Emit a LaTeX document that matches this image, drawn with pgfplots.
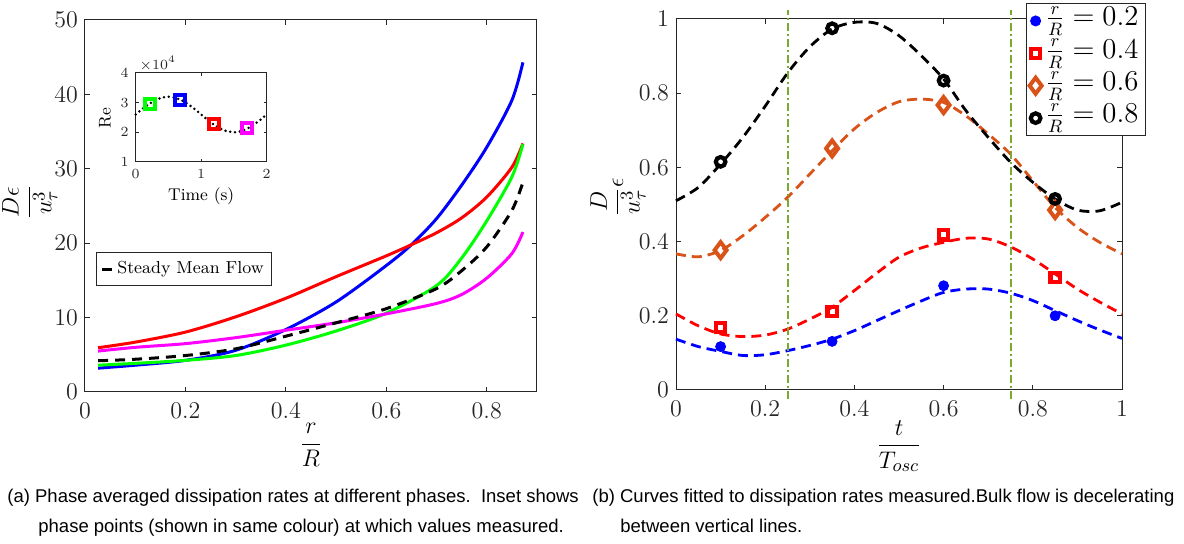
\documentclass[border=0pt]{standalone}
\usepackage{fontspec}
\usepackage{pgfplots}
\pgfplotsset{compat=1.18}
\newfontfamily\capfont{Liberation Sans}
\definecolor{mgray}{rgb}{0.15,0.15,0.15}
\definecolor{morange}{rgb}{0.85,0.325,0.098}
\definecolor{mgreen}{rgb}{0.466,0.674,0.188}
\definecolor{mmag}{rgb}{1,0,1}
\definecolor{mblue}{rgb}{0,0,1}
\definecolor{mred}{rgb}{1,0,0}
\definecolor{mgrn}{rgb}{0,1,0}
\pgfplotsset{
  mstyle/.style={
    scale only axis, anchor=south west,
    axis line style={mgray, line width=0.5pt},
    tick style={mgray, line width=0.5pt},
    tick align=inside,
    tick label style={text=mgray},
  }
}
\begin{document}
\begin{tikzpicture}
\path[use as bounding box] (0,0) rectangle (592pt,272pt);

% ---------------- left main panel ----------------
\begin{axis}[mstyle,
  at={(42.5pt,76pt)}, width=226pt, height=186pt,
  xmin=0, xmax=0.9, ymin=0, ymax=50,
  xtick={0,0.2,0.4,0.6,0.8}, ytick={0,10,20,30,40,50},
  major tick length=2.5pt,
  tick label style={font=\fontsize{13}{15}\selectfont},
  xticklabel style={yshift=-2pt},
  xlabel={$\displaystyle\frac{r}{R}$},
  ylabel={$\displaystyle\frac{D\epsilon}{u_\tau^3}$},
  label style={font=\fontsize{13}{15}\selectfont},
  xlabel style={at={(axis description cs:0.5,-0.1425)}, anchor=center},
  ylabel style={at={(axis description cs:-0.122,0.51)}, anchor=center},
  legend style={at={(0.024,0.376)}, anchor=north west, draw=mgray, line width=0.5pt,
    font=\fontsize{8.7}{10}\selectfont, inner xsep=2pt, inner ysep=2.5pt},
  legend cell align=left,
  legend image code/.code={\draw[#1, solid] (1pt,0pt) -- (6pt,0pt);},
]
\addplot[mblue, line width=1.5pt, smooth, forget plot] coordinates {
 (0.026,3.2) (0.1,3.6) (0.2,4.25) (0.3,5.6) (0.4,8.4) (0.5,12.1) (0.6,17.0) (0.65,19.8)
 (0.7,23.3) (0.75,27.8) (0.8,32.9) (0.85,39.2) (0.872,44.3)};
\addplot[mred, line width=1.5pt, smooth, forget plot] coordinates {
 (0.026,5.95) (0.1,6.7) (0.2,8.05) (0.3,10.1) (0.4,12.6) (0.5,15.5) (0.6,18.3) (0.65,19.8)
 (0.7,21.4) (0.75,23.4) (0.8,26.2) (0.85,30.2) (0.872,33.4)};
\addplot[mgrn, line width=1.5pt, smooth, forget plot] coordinates {
 (0.026,3.6) (0.1,3.85) (0.2,4.25) (0.3,4.9) (0.4,6.3) (0.5,8.2) (0.6,10.6)
 (0.7,14.3) (0.75,18.0) (0.8,23.0) (0.85,28.9) (0.872,33.3)};
\addplot[mmag, line width=1.5pt, smooth, forget plot] coordinates {
 (0.026,5.5) (0.1,6.0) (0.2,6.5) (0.3,7.3) (0.4,8.3) (0.5,9.3) (0.6,10.5)
 (0.7,11.9) (0.75,13.1) (0.8,15.3) (0.85,18.6) (0.872,21.5)};
\addplot[black, line width=1.5pt, smooth, dash pattern=on 5pt off 3.5pt] coordinates {
 (0.026,4.2) (0.1,4.4) (0.2,4.9) (0.3,5.8) (0.4,7.5) (0.5,9.3) (0.6,11.2)
 (0.7,13.9) (0.75,16.3) (0.8,19.5) (0.85,24.4) (0.872,28.2)};
\addlegendentry{Steady Mean Flow}
\end{axis}

% ---------------- inset ----------------
\begin{axis}[mstyle,
  at={(67.85pt,191pt)}, width=65.5pt, height=44.5pt,
  axis background/.style={fill=white},
  xmin=0, xmax=2, ymin=1, ymax=4,
  xtick={0,1,2}, ytick={1,2,3,4},
  major tick length=1.5pt,
  tick label style={font=\fontsize{7.5}{9}\selectfont},
  xlabel={Time (s)}, ylabel={Re},
  label style={font=\fontsize{8.5}{10}\selectfont},
  xlabel style={at={(axis description cs:0.5,-0.38)}, anchor=center},
  ylabel style={at={(axis description cs:-0.234,0.49)}, anchor=center},
  clip=false,
]
\addplot[black, line width=1.4pt, line cap=round, dash pattern=on 0pt off 2.4pt] coordinates {
 (0,2.6) (0.1,2.785) (0.2,2.953) (0.3,3.085) (0.4,3.171) (0.5,3.2) (0.6,3.171)
 (0.7,3.085) (0.8,2.953) (0.9,2.785) (1.0,2.6) (1.1,2.415) (1.2,2.247) (1.3,2.115)
 (1.4,2.029) (1.5,2.0) (1.6,2.029) (1.7,2.115) (1.8,2.247) (1.9,2.415) (2.0,2.6)};
\addplot[mgrn, only marks, mark=square, mark size=2.5pt, mark options={line width=2pt, fill=white}] coordinates {(0.22,2.97)};
\addplot[mblue, only marks, mark=square, mark size=2.5pt, mark options={line width=2pt, fill=white}] coordinates {(0.68,3.1)};
\addplot[mred, only marks, mark=square, mark size=2.5pt, mark options={line width=2pt, fill=white}] coordinates {(1.2,2.27)};
\addplot[mmag, only marks, mark=square, mark size=2.5pt, mark options={line width=2pt, fill=white}] coordinates {(1.7,2.15)};
\node[anchor=south west, inner sep=0.5pt, text=mgray, font=\fontsize{7.5}{9}\selectfont] at (rel axis cs:0.02,1.01) {$\times 10^4$};
\end{axis}

% ---------------- right panel ----------------
\begin{axis}[mstyle,
  at={(338pt,77pt)}, width=223pt, height=185.5pt,
  xmin=0, xmax=1, ymin=0, ymax=1,
  xtick={0,0.2,0.4,0.6,0.8,1}, ytick={0,0.2,0.4,0.6,0.8,1},
  major tick length=2.5pt,
  clip=false,
  tick label style={font=\fontsize{13}{15}\selectfont},
  xticklabel style={yshift=-2pt},
  xlabel={$\displaystyle\frac{t}{T_{osc}}$},
  ylabel={$\displaystyle\frac{D}{u_\tau^3}\epsilon$},
  label style={font=\fontsize{13}{15}\selectfont},
  xlabel style={at={(axis description cs:0.5,-0.152)}, anchor=center},
  ylabel style={at={(axis description cs:-0.13,0.52)}, anchor=center},
  legend style={at={(0.785,1.043)}, anchor=north west, draw=mgray, line width=0.5pt,
    font=\fontsize{13.5}{15}\selectfont, inner xsep=1.5pt, inner ysep=1pt, row sep=0.8pt,
    nodes={inner ysep=0.5pt, text height=9.6pt, text depth=4.8pt}},
  legend cell align=left,
]
% fitted curves
\addplot[mblue, line width=1.4pt, smooth, dash pattern=on 5pt off 3pt, forget plot] coordinates {
 (0,0.137) (0.05,0.117) (0.1,0.104) (0.15,0.093) (0.2,0.095) (0.25,0.106) (0.3,0.12)
 (0.35,0.137) (0.4,0.16) (0.45,0.187) (0.5,0.214) (0.55,0.240) (0.6,0.263) (0.65,0.272)
 (0.7,0.272) (0.75,0.261) (0.8,0.241) (0.85,0.214) (0.9,0.187) (0.95,0.162) (1.0,0.139)};
\addplot[mred, line width=1.4pt, smooth, dash pattern=on 5pt off 3pt, forget plot] coordinates {
 (0,0.205) (0.05,0.173) (0.1,0.151) (0.15,0.144) (0.2,0.148) (0.25,0.164) (0.3,0.191)
 (0.35,0.223) (0.4,0.268) (0.45,0.315) (0.5,0.358) (0.55,0.383) (0.6,0.398) (0.65,0.409)
 (0.7,0.407) (0.75,0.386) (0.8,0.353) (0.85,0.313) (0.9,0.272) (0.95,0.237) (1.0,0.205)};
\addplot[morange, line width=1.4pt, smooth, dash pattern=on 5pt off 3pt, forget plot] coordinates {
 (0,0.367) (0.05,0.359) (0.1,0.376) (0.15,0.416) (0.2,0.465) (0.25,0.519) (0.3,0.582)
 (0.35,0.645) (0.4,0.704) (0.45,0.748) (0.5,0.777) (0.55,0.784) (0.6,0.775) (0.65,0.739)
 (0.7,0.69) (0.75,0.636) (0.8,0.564) (0.85,0.492) (0.9,0.438) (0.95,0.398) (1.0,0.367)};
\addplot[black, line width=1.4pt, smooth, dash pattern=on 5pt off 3pt, forget plot] coordinates {
 (0,0.51) (0.05,0.546) (0.1,0.609) (0.15,0.681) (0.2,0.765) (0.25,0.854) (0.3,0.925)
 (0.35,0.973) (0.4,0.991) (0.45,0.988) (0.5,0.955) (0.55,0.901) (0.6,0.838) (0.65,0.753)
 (0.7,0.681) (0.75,0.614) (0.8,0.56) (0.85,0.515) (0.9,0.485) (0.95,0.483) (1.0,0.506)};
% vertical lines
\addplot[mgreen, line width=1pt, dash pattern=on 4pt off 1.5pt on 1pt off 1.5pt, forget plot] coordinates {(0.25,-0.025) (0.25,1.025)};
\addplot[mgreen, line width=1pt, dash pattern=on 4pt off 1.5pt on 1pt off 1.5pt, forget plot] coordinates {(0.75,-0.025) (0.75,1.025)};
% measured points
\addplot[mblue, only marks, mark=*, mark size=2.5pt] coordinates {(0.1,0.117) (0.35,0.131) (0.6,0.281) (0.85,0.200)};
\addlegendentry{$\frac{r}{R}=0.2$}
\addplot[mred, only marks, mark=square, mark size=2.3pt, mark options={line width=2.1pt, fill=white}] coordinates {(0.1,0.169) (0.35,0.211) (0.6,0.418) (0.85,0.304)};
\addlegendentry{$\frac{r}{R}=0.4$}
\addplot[morange, only marks, mark=diamond, mark size=4pt, mark options={line width=2pt, fill=white}] coordinates {(0.1,0.377) (0.35,0.651) (0.6,0.768) (0.85,0.485)};
\addlegendentry{$\frac{r}{R}=0.6$}
\addplot[black, only marks, mark=o, mark size=2.4pt, mark options={line width=2.1pt, fill=white}] coordinates {(0.1,0.615) (0.35,0.975) (0.6,0.834) (0.85,0.515)};
\addlegendentry{$\frac{r}{R}=0.8$}
\end{axis}

% ---------------- captions ----------------
\begin{scope}[every node/.style={anchor=base west, inner sep=0pt, font=\capfont\fontsize{9.25}{11}\selectfont}]
\node at (3.5pt,20.5pt) {(a) Phase averaged dissipation rates at different phases.\ \ Inset shows};
\node at (19pt,5.5pt) {phase points (shown in same colour) at which values measured.};
\node at (296pt,20.5pt) {(b) Curves fitted to dissipation rates measured.Bulk flow is decelerating};
\node at (310pt,5.5pt) {between vertical lines.};
\end{scope}
\end{tikzpicture}
\end{document}
